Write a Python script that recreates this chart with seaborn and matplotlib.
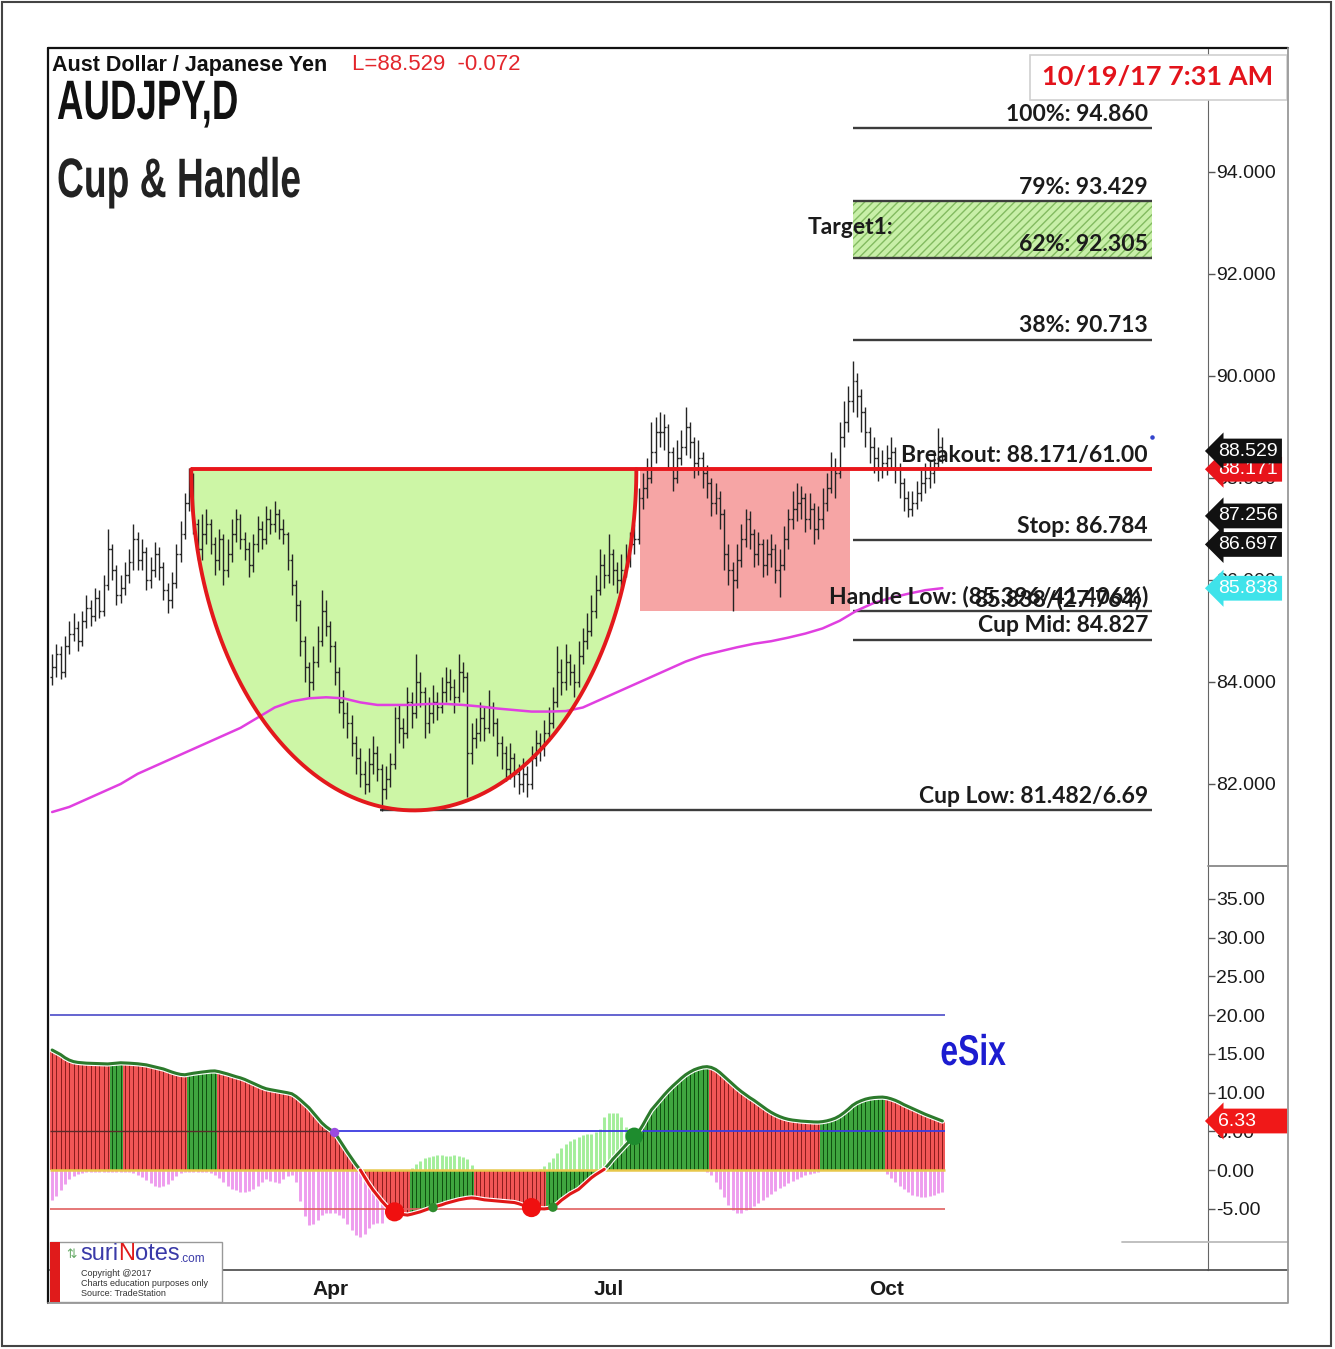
import numpy as np
import pandas as pd
import matplotlib
matplotlib.use('Agg')
import matplotlib.pyplot as plt
import matplotlib.patheffects as pe
from matplotlib.patches import Rectangle
from matplotlib.lines import Line2D
from matplotlib.text import Annotation
from matplotlib.transforms import Affine2D
from matplotlib.ticker import FormatStrFormatter
import seaborn as sns

# daily AUDJPY bars, 2 Jan 2017 .. 19 Oct 2017 (open = previous close)
first_open = 84.10
close = [
    84.30, 84.55, 84.20, 84.70, 84.95, 85.05, 84.80, 85.20, 85.45, 85.30,
    85.65, 85.40, 85.90, 86.60, 86.20, 85.70, 85.85, 86.10, 86.35, 86.80,
    86.40, 86.55, 86.00, 86.20, 86.50, 86.25, 85.80, 85.60, 85.95, 86.50,
    86.90, 87.50, 88.00, 87.10, 86.60, 86.90, 87.10, 86.70, 86.40, 86.80,
    86.20, 86.50, 86.90, 87.20, 86.80, 86.60, 86.30, 86.70, 87.00, 86.80,
    87.20, 87.10, 87.30, 87.00, 86.90, 86.40, 85.90, 85.50, 84.80, 84.30,
    84.00, 84.40, 84.80, 85.40, 85.10, 84.70, 84.20, 83.60, 83.40, 83.20,
    82.80, 82.50, 82.20, 82.00, 82.40, 82.60, 82.30, 81.90, 82.10, 82.40,
    83.30, 83.10, 83.00, 83.60, 83.40, 84.00, 83.80, 83.20, 83.40, 83.60,
    83.50, 83.80, 84.00, 83.90, 83.70, 84.20, 84.10, 82.60, 82.90, 83.00,
    83.30, 83.10, 83.50, 83.20, 82.80, 82.60, 82.30, 82.50, 82.20, 82.00,
    82.20, 82.00, 82.50, 82.80, 82.70, 83.00, 83.20, 83.60, 84.20, 84.00,
    84.40, 84.20, 84.00, 84.50, 84.80, 85.00, 85.40, 85.80, 86.30, 86.10,
    86.50, 86.20, 86.00, 86.20, 86.40, 86.70, 86.80, 87.60, 87.80, 88.00,
    88.50, 88.90, 88.90, 89.00, 88.50, 88.00, 88.40, 88.60, 89.00, 88.70,
    88.30, 88.40, 88.10, 87.90, 87.50, 87.60, 87.30, 86.50, 86.20, 86.00,
    86.40, 86.80, 87.20, 86.90, 86.50, 86.70, 86.30, 86.50, 86.60, 86.20,
    86.30, 86.80, 87.20, 87.40, 87.50, 87.60, 87.20, 87.40, 87.00, 87.20,
    87.50, 87.80, 88.20, 88.10, 88.80, 89.10, 89.50, 89.90, 89.60, 89.30,
    88.90, 88.60, 88.40, 88.20, 88.30, 88.40, 88.50, 88.20, 87.90, 87.60,
    87.40, 87.50, 87.70, 87.90, 88.00, 88.10, 88.30, 88.60, 88.53]
high = [
    84.55, 84.75, 84.70, 84.90, 85.20, 85.35, 85.20, 85.40, 85.70, 85.60,
    85.85, 85.80, 86.10, 87.00, 86.70, 86.30, 86.10, 86.35, 86.60, 87.10,
    86.95, 86.80, 86.65, 86.45, 86.75, 86.65, 86.35, 85.95, 86.15, 86.70,
    87.15, 87.70, 88.20, 88.10, 87.20, 87.30, 87.40, 87.20, 86.85, 87.00,
    86.90, 86.80, 87.20, 87.40, 87.30, 86.95, 86.75, 86.90, 87.25, 87.15,
    87.45, 87.40, 87.55, 87.40, 87.20, 86.95, 86.50, 86.00, 85.60, 84.90,
    84.40, 84.70, 85.10, 85.80, 85.60, 85.20, 84.80, 84.30, 83.85, 83.60,
    83.35, 82.95, 82.70, 82.45, 82.70, 82.95, 82.75, 82.40, 82.35, 82.60,
    83.50, 83.55, 83.30, 83.90, 83.80, 84.55, 84.20, 83.90, 83.70, 83.95,
    83.80, 84.10, 84.30, 84.25, 84.05, 84.55, 84.40, 84.20, 83.20, 83.30,
    83.60, 83.50, 83.85, 83.60, 83.30, 82.95, 82.75, 82.80, 82.60, 82.40,
    82.50, 82.35, 82.75, 83.05, 83.00, 83.25, 83.50, 83.90, 84.70, 84.45,
    84.75, 84.55, 84.35, 84.80, 85.05, 85.35, 85.70, 86.10, 86.60, 86.50,
    86.90, 86.60, 86.35, 86.50, 86.70, 86.95, 87.10, 87.80, 88.10, 88.40,
    89.10, 89.20, 89.30, 89.25, 89.05, 88.60, 88.75, 88.95, 89.40, 89.10,
    88.80, 88.75, 88.50, 88.25, 88.00, 87.90, 87.75, 87.40, 86.70, 86.35,
    86.70, 87.10, 87.40, 87.35, 87.00, 86.95, 86.80, 86.80, 86.90, 86.70,
    86.60, 87.05, 87.40, 87.75, 87.90, 87.85, 87.70, 87.70, 87.50, 87.45,
    87.80, 88.10, 88.50, 88.40, 89.10, 89.50, 89.80, 90.30, 90.05, 89.75,
    89.40, 89.00, 88.80, 88.60, 88.55, 88.65, 88.80, 88.60, 88.30, 88.00,
    87.75, 87.75, 87.95, 88.15, 88.30, 88.35, 88.55, 88.98, 88.80]
low = [
    83.95, 84.10, 84.05, 84.10, 84.55, 84.80, 84.60, 84.70, 85.05, 85.10,
    85.20, 85.25, 85.30, 85.80, 86.00, 85.50, 85.55, 85.70, 85.95, 86.20,
    86.20, 86.20, 85.80, 85.85, 86.05, 86.00, 85.60, 85.35, 85.45, 85.85,
    86.35, 86.80, 87.35, 86.90, 86.40, 86.40, 86.70, 86.50, 86.10, 86.20,
    85.90, 86.05, 86.35, 86.75, 86.60, 86.40, 86.05, 86.15, 86.55, 86.60,
    86.70, 86.90, 86.95, 86.80, 86.70, 86.20, 85.70, 85.20, 84.50, 84.00,
    83.70, 83.85, 84.30, 84.70, 84.90, 84.40, 83.95, 83.40, 83.10, 82.90,
    82.55, 82.20, 81.95, 81.80, 81.85, 82.20, 82.05, 81.48, 81.70, 81.95,
    82.30, 82.80, 82.70, 82.90, 83.10, 83.30, 83.50, 82.90, 83.00, 83.20,
    83.25, 83.40, 83.60, 83.65, 83.40, 83.60, 83.80, 81.75, 82.40, 82.70,
    82.85, 82.85, 83.00, 82.95, 82.55, 82.30, 82.05, 82.10, 81.95, 81.80,
    81.85, 81.75, 81.90, 82.35, 82.45, 82.55, 82.85, 83.10, 83.50, 83.75,
    83.85, 83.95, 83.70, 83.90, 84.35, 84.65, 84.90, 85.25, 85.70, 85.85,
    85.95, 85.90, 85.75, 85.85, 86.05, 86.25, 86.50, 86.70, 87.40, 87.60,
    87.90, 88.30, 88.60, 88.55, 88.20, 87.75, 87.90, 88.25, 88.45, 88.40,
    88.00, 88.05, 87.80, 87.60, 87.25, 87.30, 87.00, 86.20, 85.90, 85.40,
    85.85, 86.25, 86.65, 86.60, 86.25, 86.30, 86.05, 86.10, 86.25, 85.95,
    85.67, 86.20, 86.60, 87.00, 87.15, 87.20, 86.95, 87.00, 86.70, 86.80,
    87.00, 87.35, 87.70, 87.60, 88.00, 88.60, 88.90, 89.30, 89.20, 88.90,
    88.60, 88.30, 88.10, 87.95, 88.00, 88.05, 88.20, 87.90, 87.60, 87.35,
    87.24, 87.25, 87.40, 87.55, 87.70, 87.80, 87.90, 88.20, 88.30]

# 200-day average, one reading every 4th bar
ma_step = 4
ma200 = [
    81.45, 81.55, 81.70, 81.85, 82.00, 82.20, 82.35, 82.50, 82.65, 82.80,
    82.95, 83.10, 83.30, 83.50, 83.62, 83.68, 83.70, 83.68, 83.60, 83.55,
    83.55, 83.55, 83.57, 83.57, 83.55, 83.52, 83.48, 83.45, 83.42, 83.42,
    83.43, 83.50, 83.65, 83.80, 83.95, 84.10, 84.25, 84.40, 84.52, 84.60,
    84.68, 84.75, 84.80, 84.87, 84.95, 85.05, 85.20, 85.40, 85.55, 85.65,
    85.73, 85.80, 85.84]

# eSix oscillator (main) and its second histogram
esix = [
    15.50, 15.20, 14.90, 14.50, 14.20, 14.00, 13.90, 13.85, 13.80, 13.78,
    13.76, 13.74, 13.72, 13.70, 13.75, 13.80, 13.85, 13.83, 13.80, 13.76,
    13.72, 13.65, 13.58, 13.45, 13.32, 13.20, 13.05, 12.85, 12.65, 12.48,
    12.35, 12.30, 12.40, 12.50, 12.58, 12.65, 12.72, 12.78, 12.80, 12.70,
    12.55, 12.40, 12.22, 12.05, 11.90, 11.70, 11.45, 11.20, 10.95, 10.70,
    10.50, 10.38, 10.28, 10.18, 10.08, 9.98, 9.85, 9.50, 9.05, 8.55,
    8.05, 7.40, 6.75, 6.10, 5.60, 5.20, 4.85, 4.00, 3.15, 2.30,
    1.50, 0.70, 0.00, -0.90, -1.80, -2.60, -3.30, -4.00, -4.60, -5.10,
    -5.40, -5.60, -5.75, -5.82, -5.70, -5.55, -5.40, -5.20, -5.00, -4.85,
    -4.65, -4.50, -4.30, -4.15, -4.00, -3.85, -3.75, -3.65, -3.60, -3.65,
    -3.75, -3.85, -3.90, -3.95, -4.00, -4.05, -4.10, -4.15, -4.20, -4.35,
    -4.55, -4.70, -4.85, -4.95, -5.00, -5.02, -4.95, -4.80, -4.40, -3.90,
    -3.50, -3.10, -2.80, -2.50, -2.00, -1.50, -1.00, -0.60, -0.25, 0.10,
    0.70, 1.40, 2.00, 2.60, 3.20, 3.80, 4.35, 4.90, 5.80, 6.80,
    7.75, 8.40, 9.05, 9.70, 10.30, 10.85, 11.35, 11.85, 12.30, 12.65,
    12.95, 13.15, 13.30, 13.35, 13.25, 13.00, 12.60, 12.10, 11.60, 11.10,
    10.60, 10.15, 9.75, 9.35, 9.00, 8.60, 8.20, 7.80, 7.45, 7.15,
    6.90, 6.70, 6.55, 6.45, 6.38, 6.32, 6.28, 6.24, 6.21, 6.20,
    6.25, 6.35, 6.50, 6.70, 7.00, 7.40, 7.85, 8.35, 8.70, 8.95,
    9.15, 9.28, 9.36, 9.40, 9.42, 9.35, 9.20, 9.00, 8.75, 8.45,
    8.20, 7.95, 7.70, 7.45, 7.20, 6.98, 6.75, 6.55, 6.33]
esix_sec = [
    -3.9, -3.3, -2.6, -1.8, -1.2, -0.8, -0.5, -0.4, -0.3, -0.2,
    -0.2, -0.2, -0.2, -0.3, -0.3, -0.2, -0.2, -0.3, -0.3, -0.4,
    -0.6, -0.9, -1.3, -1.7, -2.0, -2.2, -2.1, -1.8, -1.3, -0.8,
    -0.4, -0.2, -0.2, -0.3, -0.3, -0.3, -0.3, -0.4, -0.6, -1.0,
    -1.5, -2.0, -2.4, -2.6, -2.8, -2.8, -2.7, -2.5, -2.1, -1.6,
    -1.2, -1.4, -1.6, -1.7, -1.2, -0.8, -0.7, -1.5, -4.0, -6.0,
    -7.1, -7.0, -6.5, -5.8, -5.6, -5.5, -5.6, -5.8, -6.2, -7.0,
    -7.8, -8.4, -8.6, -8.2, -7.5, -7.0, -6.9, -6.8, -4.0, -3.0,
    -2.0, -1.2, -0.6, -0.1, 0.3, 0.8, 1.2, 1.5, 1.7, 1.8,
    1.9, 1.9, 1.8, 1.8, 1.9, 1.8, 1.7, 1.4, 0.6, -0.8,
    -1.2, -1.5, -1.8, -2.0, -2.2, -2.3, -2.4, -2.3, -2.1, -1.8,
    -1.5, -1.1, -0.7, -0.3, 0.1, 0.5, 1.0, 1.6, 2.2, 2.8,
    3.3, 3.7, 4.0, 4.3, 4.5, 4.6, 4.7, 4.9, 5.3, 6.8,
    7.3, 7.4, 7.3, 6.8, 5.5, 4.0, 3.5, 3.5, 3.4, 3.2,
    3.0, 2.8, 2.6, 2.4, 2.2, 2.0, 1.8, 1.6, 1.3, 1.0,
    0.7, 0.4, 0.1, -0.2, -0.6, -1.5, -2.5, -3.5, -4.5, -5.2,
    -5.6, -5.5, -5.2, -5.0, -4.7, -4.3, -3.9, -3.5, -3.1, -2.7,
    -2.3, -2.0, -1.7, -1.4, -1.1, -0.9, -0.7, -0.5, -0.4, -0.3,
    0.3, 0.8, 1.3, 1.8, 2.2, 2.5, 2.7, 2.8, 2.8, 2.6,
    2.3, 1.8, 1.2, 0.6, 0.0, -0.5, -1.0, -1.5, -2.0, -2.5,
    -2.9, -3.2, -3.4, -3.5, -3.5, -3.4, -3.2, -3.0, -2.8]

# pattern levels
breakout = 88.171
cup_low = 81.482
cup_mid = 84.827
handle_low = 85.396
stop_level = 86.784
fib_names = ['100%', '79%', '62%', '38%']
fib_values = [94.860, 93.429, 92.305, 90.713]
tag_values = [88.171, 88.529, 87.256, 86.697, 85.838]
tag_colors = ['#e8141b', '#111111', '#111111', '#111111', '#3fe3ea']
esix_last = 6.33
esix_bands = [20, 5, 0, -5]

# bar numbers where pattern pieces start / end
cup_start, cup_end = 32.5, 136.5
handle_start, handle_end = 137.3, 186.4
levels_start, levels_end = 187.0, 257.0
cup_low_start = 76.5
signal_bars = [66, 80, 89, 112, 117, 136]
signal_colors = ['#9a4ae0', '#f01010', '#2e8b2e', '#f01010', '#2e8b2e', '#1e8c2e']
signal_sizes = [45, 190, 45, 190, 45, 160]

ARIAL = ['Liberation Sans', 'DejaVu Sans']
LATO = ['Lato', 'DejaVu Sans']

sns.set_style('white')
plt.rcParams['font.family'] = ARIAL
plt.rcParams['hatch.linewidth'] = 1.0


class Squeeze(pe.AbstractPathEffect):
    """narrow the glyphs horizontally around x0 (pixels)"""
    def __init__(self, sx, x0):
        super().__init__()
        self.sx, self.x0 = sx, x0

    def draw_path(self, renderer, gc, tpath, affine, rgbFace=None):
        sq = Affine2D().translate(-self.x0, 0).scale(self.sx, 1).translate(self.x0, 0)
        renderer.draw_path(gc, tpath, affine + sq, rgbFace)


n = len(close)
idx = np.arange(n)
opens = np.r_[first_open, close[:-1]]
days = pd.bdate_range('2017-01-02', '2017-12-29')
month_pos = [i for i in range(1, len(days)) if days[i].month != days[i - 1].month]
month_lab = [days[i].strftime('%b') if days[i].month in (4, 7, 10) else '' for i in month_pos]

W, H = 1335, 1349
fig = plt.figure(figsize=(W / 100, H / 100), dpi=100)


def fx(x):
    return x / W


def fy(y):
    return 1 - y / H


ax_p = fig.add_axes([fx(50), fy(866), fx(1208) - fx(50), fy(48) - fy(866)])
ax_i = fig.add_axes([fx(50), fy(1270), fx(1208) - fx(50), fy(866) - fy(1270)], sharex=ax_p)
ax_p.set_xlim(-0.5, -0.5 + 1158 / 4.28)

# ---- price panel
cx = (cup_start + cup_end) / 2
t = np.linspace(np.pi, 2 * np.pi, 240)
cup_x = cx + (cup_end - cup_start) / 2 * np.cos(t)
cup_y = breakout + (breakout - cup_low) * np.sin(t)
ax_p.fill(cup_x, cup_y, color='#cdf6a6', lw=0, zorder=1)
ax_p.plot(cup_x, cup_y, color='#e3191c', lw=2.8, zorder=5)
ax_p.add_patch(Rectangle((handle_start, handle_low), handle_end - handle_start,
                         breakout - handle_low, fc='#f6a5a5', lw=0, zorder=1))
ax_p.add_patch(Rectangle((levels_start, fib_values[2]), levels_end - levels_start,
                         fib_values[1] - fib_values[2], fc='#c8efa8', ec='#82bb60',
                         hatch='////', lw=0, zorder=1))

level_vals = fib_values + [stop_level, handle_low, cup_mid]
ax_p.hlines(level_vals, levels_start, levels_end, color='#3c3c3c', lw=1.7, zorder=2)
ax_p.hlines(cup_low, cup_low_start, levels_end, color='#3c3c3c', lw=1.7, zorder=2)

bar_c = '#242424'
ax_p.vlines(idx, low, high, color=bar_c, lw=1.0, zorder=3)
ax_p.hlines(opens, idx - 0.45, idx, color=bar_c, lw=1.0, zorder=3)
ax_p.hlines(close, idx, idx + 0.45, color=bar_c, lw=1.0, zorder=3)

sns.lineplot(x=np.arange(0, n, ma_step), y=ma200, ax=ax_p, color='#e03fe0', lw=1.8, zorder=4)
ax_p.hlines(breakout, cup_start, levels_end, color='#e8161b', lw=2.8, zorder=5)
ax_p.scatter([levels_end], [88.80], s=5, color='#3344cc', zorder=5)

label_x = levels_end - 0.95
lab = dict(ha='right', va='bottom', fontsize=16.5, fontweight='bold', family=LATO,
           color='#1b1b1b', zorder=8, textcoords='offset points', xytext=(0, 2.5))
for name, v in zip(fib_names, fib_values):
    ax_p.annotate(f'{name}: {v:.3f}', xy=(label_x, v), **lab)
ax_p.annotate(f'Breakout: {breakout:.3f}/61.00', xy=(label_x, breakout), **lab)
ax_p.annotate(f'Stop: {stop_level:.3f}', xy=(label_x, stop_level), **lab)
ax_p.annotate('Handle Low: (85.396/41.406%)', xy=(label_x, handle_low), **lab)
ax_p.annotate('85.838/(27.764)', xy=(label_x - 1.5, handle_low), ha='right', va='bottom',
              fontsize=16.5, fontweight='bold', family=LATO, color='#1b1b1b', zorder=8,
              textcoords='offset points', xytext=(0, 0))
ax_p.annotate(f'Cup Mid: {cup_mid:.3f}', xy=(label_x, cup_mid), **lab)
ax_p.annotate(f'Cup Low: {cup_low:.3f}/6.69', xy=(label_x, cup_low), **lab)
ax_p.text(176.4, (fib_values[1] + fib_values[2]) / 2 + 0.05, 'Target1:', ha='left',
          va='center', fontsize=16.5, fontweight='bold', family=LATO, color='#1b1b1b', zorder=8)

ax_p.set_ylim(80.392, 96.431)
ax_p.yaxis.tick_right()
ax_p.set_yticks([82, 84, 86, 88, 90, 92, 94])
ax_p.yaxis.set_major_formatter(FormatStrFormatter('%.3f'))
ax_p.tick_params(axis='y', direction='out', length=5, width=1, color='#555555',
                 labelsize=14, pad=1, labelcolor='#1a1a1a')
ax_p.tick_params(axis='x', bottom=False, labelbottom=False)
for s in ['left', 'top', 'bottom']:
    ax_p.spines[s].set_visible(False)
ax_p.spines['right'].set_color('#666666')

for v, c in zip(tag_values, tag_colors):
    ax_p.text(1.009, v, f'{v:.3f}', transform=ax_p.get_yaxis_transform(), ha='left',
              va='center', fontsize=14, color='white', zorder=20, clip_on=False,
              bbox=dict(boxstyle='larrow,pad=0.2', fc=c, ec='none'))

# ---- eSix panel
d = np.diff(esix, prepend=esix[0])
rising = d > 0
fill_c = np.where(rising, '#3fa63f', '#f25656')
line_c = np.where(rising, '#0f500f', '#8a1c1c')
sec = np.array(esix_sec)
sec_c = np.where(sec >= 0, '#a3ee9a', '#ee9cee')
ax_i.vlines(idx, 0, sec, colors=sec_c, lw=2.1, zorder=1)
ax_i.bar(idx, esix, width=1.0, color=fill_c, lw=0, zorder=2)
ax_i.vlines(idx, 0, esix, colors=line_c, lw=0.7, zorder=3)

ax_i.hlines(esix_bands[0], -0.5, n - 0.5, color='#4a4ac8', lw=1.2, zorder=4)
ax_i.hlines(esix_bands[1], -0.5, signal_bars[0], color='#5a2a2a', lw=1.0, zorder=4)
ax_i.hlines(esix_bands[1], signal_bars[0], n - 0.5, color='#3b3be0', lw=1.3, zorder=4)
ax_i.hlines(esix_bands[2], -0.5, n - 0.5, color='#e8c84a', lw=1.8, zorder=4)
ax_i.hlines(esix_bands[3], -0.5, n - 0.5, color='#e06060', lw=1.2, zorder=4)

ev = np.array(esix)
up_line = np.where(ev >= -0.01, ev, np.nan)
dn_line = np.where(ev <= 0.11, ev, np.nan)
stroke = [pe.Stroke(linewidth=3.8, foreground='white'), pe.Normal()]
ax_i.plot(idx, up_line, color='#2c7a2c', lw=2.2, zorder=6, path_effects=stroke)
ax_i.plot(idx, dn_line, color='#e01818', lw=2.2, zorder=6, path_effects=stroke)
ax_i.scatter(signal_bars, ev[signal_bars], s=signal_sizes, c=signal_colors, zorder=7, lw=0)

ax_i.set_ylim(-12.91, 39.26)
ax_i.yaxis.tick_right()
ax_i.set_yticks(np.arange(-5, 36, 5))
ax_i.yaxis.set_major_formatter(FormatStrFormatter('%.2f'))
ax_i.tick_params(axis='y', direction='out', length=5, width=1, color='#555555',
                 labelsize=14, pad=1, labelcolor='#1a1a1a')
ax_i.set_xticks(month_pos)
ax_i.set_xticklabels(month_lab)
ax_i.tick_params(axis='x', direction='in', length=6, width=1, color='#666666',
                 labelsize=15, pad=7, labelcolor='#1a1a1a')
for lbl in ax_i.get_xticklabels():
    lbl.set_fontweight('bold')
for s in ['left', 'top']:
    ax_i.spines[s].set_visible(False)
ax_i.spines['right'].set_color('#666666')
ax_i.spines['bottom'].set_color('#555555')
ax_i.spines['bottom'].set_linewidth(1.3)
ax_i.text(1.009, esix_last, f'{esix_last:.2f}     ', transform=ax_i.get_yaxis_transform(),
          ha='left', va='center', fontsize=14, color='white', zorder=20, clip_on=False,
          bbox=dict(boxstyle='larrow,pad=0.2', fc='#f01818', ec='none'))

# ---- headings and frame
fig.text(fx(52), fy(65), 'Aust Dollar / Japanese Yen', fontsize=15.5, fontweight='bold',
         family=ARIAL, color='#111111', va='center', ha='left')
fig.text(fx(352), fy(65), 'L=88.529  -0.072', fontsize=16, family=ARIAL,
         color='#e3262c', va='center', ha='left')
fig.text(fx(57), fy(105), 'AUDJPY,D', fontsize=40, fontweight='bold', family=ARIAL,
         color='#111111', va='center', ha='left', path_effects=[Squeeze(0.66, 57)])
fig.text(fx(57), fy(183), 'Cup & Handle', fontsize=40, fontweight='bold', family=ARIAL,
         color='#222222', va='center', ha='left', path_effects=[Squeeze(0.67, 57)])
fig.text(fx(973), fy(1054), 'eSix', fontsize=31, fontweight='bold', family=ARIAL,
         color='#1c1cd0', va='center', ha='center', path_effects=[Squeeze(0.74, 973)])

fig.add_artist(Rectangle((fx(1030), fy(100)), fx(1287) - fx(1030), fy(55) - fy(100),
                         transform=fig.transFigure, fc='white', ec='#cfcfcf', lw=1.2, zorder=10))
fig.text(fx(1158), fy(77), '10/19/17 7:31 AM', fontsize=19.5, fontweight='bold', family=LATO,
         color='#e3131b', va='center', ha='center', zorder=11)

for y0, xa, xb, col in [(866, 1208, 1288, '#888888'), (1242, 1122, 1288, '#bbbbbb'),
                        (1270, 1208, 1288, '#555555')]:
    fig.add_artist(Line2D([fx(xa), fx(xb)], [fy(y0), fy(y0)], transform=fig.transFigure,
                          color=col, lw=1.3, zorder=12))
fig.add_artist(Line2D([fx(48), fx(1288)], [fy(48), fy(48)], transform=fig.transFigure,
                      color='#111111', lw=1.6, zorder=12))
fig.add_artist(Line2D([fx(48), fx(48)], [fy(48), fy(1303)], transform=fig.transFigure,
                      color='#111111', lw=1.6, zorder=12))
fig.add_artist(Line2D([fx(1288), fx(1288), fx(48)], [fy(48), fy(1303), fy(1303)],
                      transform=fig.transFigure, color='#999999', lw=1.3, zorder=12))
fig.add_artist(Rectangle((fx(2), fy(1346)), fx(1331) - fx(2), fy(2) - fy(1346),
                         transform=fig.transFigure, fill=False, ec='#444444', lw=1.5, zorder=12))

# logo box
fig.add_artist(Rectangle((fx(50), fy(1302)), fx(222) - fx(50), fy(1242) - fy(1302),
                         transform=fig.transFigure, fc='white', ec='#999999', lw=1, zorder=13))
fig.add_artist(Rectangle((fx(50), fy(1302)), fx(60) - fx(50), fy(1242) - fy(1302),
                         transform=fig.transFigure, fc='#e01b1b', lw=0, zorder=14))
t1 = fig.text(fx(80), fy(1265), 'suri', fontsize=17, color='#3a3aa8', zorder=14,
              family=ARIAL, va='bottom')
t2 = fig.add_artist(Annotation('N', xy=(1, 0), xycoords=t1, va='bottom', fontsize=17,
                               color='#e01b1b', zorder=14, family=ARIAL))
t3 = fig.add_artist(Annotation('otes', xy=(1, 0), xycoords=t2, va='bottom', fontsize=17,
                               color='#3a3aa8', zorder=14, family=ARIAL))
fig.add_artist(Annotation('.com', xy=(1, 0), xycoords=t3, va='bottom', fontsize=8.5,
                          color='#3a3aa8', zorder=14, family=ARIAL))
fig.text(fx(66), fy(1255), '\u21c5', fontsize=9, color='#66aa66', zorder=14, va='center')
for k, s in enumerate(['Copyright @2017', 'Charts education purposes only',
                       'Source: TradeStation']):
    fig.text(fx(81), fy(1273 + 10.5 * k), s, fontsize=6.5, color='#333333', zorder=14,
             va='center', family=ARIAL)

fig.savefig('out.png', dpi=100, facecolor='white')
